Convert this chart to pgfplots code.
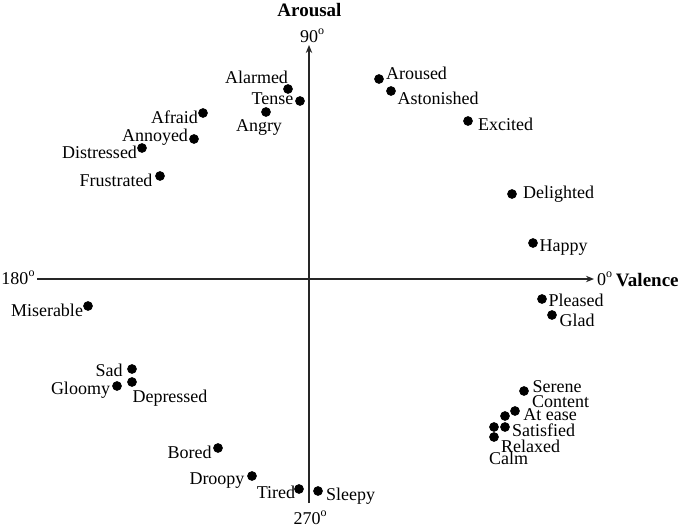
\documentclass[border=0pt]{standalone}
\usepackage{fontspec}
\setmainfont{Liberation Serif}
\usepackage{pgfplots}
\pgfplotsset{compat=1.18}
\usetikzlibrary{arrows.meta}
\begin{document}
\begin{tikzpicture}
\fontsize{9}{10}\selectfont
\begin{axis}[
  x=0.5pt, y=0.5pt,
  xmin=-272, xmax=285, ymin=-224, ymax=234,
  enlargelimits=false,
  axis lines=middle,
  xtick=\empty, ytick=\empty,
  clip=false,
  x axis line style={line width=0.6pt, draw=black!85, -{Stealth[length=4pt,width=3.2pt]}},
  y axis line style={line width=0.6pt, draw=black!85, -{Stealth[length=4pt,width=3.2pt]}},
  every node/.style={font=\fontsize{9}{10}\selectfont, inner sep=0pt},
]
\coordinate (O) at (axis cs:0,0);
\addplot[only marks, mark=*, mark size=2.2pt, black] coordinates {
(-21,190) (-9,178) (-43,167) (-106,166) (-115,140) (-167,131) (-149,103)
(70,200) (82,188) (159,158) (203,85) (224,36)
(233,-20) (243,-36)
(215,-112) (206,-132) (196,-137) (196,-148) (185,-148) (185,-158)
(-221,-27) (-177,-90) (-177,-103) (-192,-107)
(-91,-169) (-57,-197) (-10,-210) (9,-212)
};
\node at (axis cs:-52.5,202) {Alarmed};
\node at (axis cs:-36.5,180) {Tense};
\node at (axis cs:-50,151) {Angry};
\node at (axis cs:-134.5,162) {Afraid};
\node at (axis cs:-154,142) {Annoyed};
\node at (axis cs:-209.5,127) {Distressed};
\node at (axis cs:-193,99) {Frustrated};
\node at (axis cs:107.5,206) {Aroused};
\node at (axis cs:129,181) {Astonished};
\node at (axis cs:196.5,155) {Excited};
\node at (axis cs:249.5,85) {Delighted};
\node at (axis cs:254.5,31) {Happy};
\node at (axis cs:267,-21) {Pleased};
\node at (axis cs:268,-41) {Glad};
\node at (axis cs:248,-108) {Serene};
\node at (axis cs:251.5,-123) {Content};
\node at (axis cs:241,-136) {At ease};
\node at (axis cs:234.5,-151) {Satisfied};
\node at (axis cs:221.5,-167) {Relaxed};
\node at (axis cs:199.5,-179) {Calm};
\node at (axis cs:-262,-31) {Miserable};
\node at (axis cs:-200,-91) {Sad};
\node at (axis cs:-228.5,-111) {Gloomy};
\node at (axis cs:-139,-119) {Depressed};
\node at (axis cs:-119.5,-173) {Bored};
\node at (axis cs:-92,-202) {Droopy};
\node at (axis cs:-33,-213) {Tired};
\node at (axis cs:41.5,-217) {Sleepy};
\node at (axis cs:1.5,-239) {270\textsuperscript{o}};
\node at (axis cs:-290.5,1) {180\textsuperscript{o}};
\node at (axis cs:3.5,243) {90\textsuperscript{o}};
\node[font=\fontsize{9.5}{10}\selectfont\bfseries] at (axis cs:0.5,269) {Arousal};
\node at (axis cs:296,0) {0\textsuperscript{o}};
\node[anchor=east, font=\fontsize{9.5}{10}\selectfont\bfseries] at (axis cs:376,-1) {Valence};
\end{axis}
\pgfresetboundingbox
\path (O) ++(-154.5pt,139.5pt) rectangle ++(342.5pt,-263pt);
\end{tikzpicture}
\end{document}
